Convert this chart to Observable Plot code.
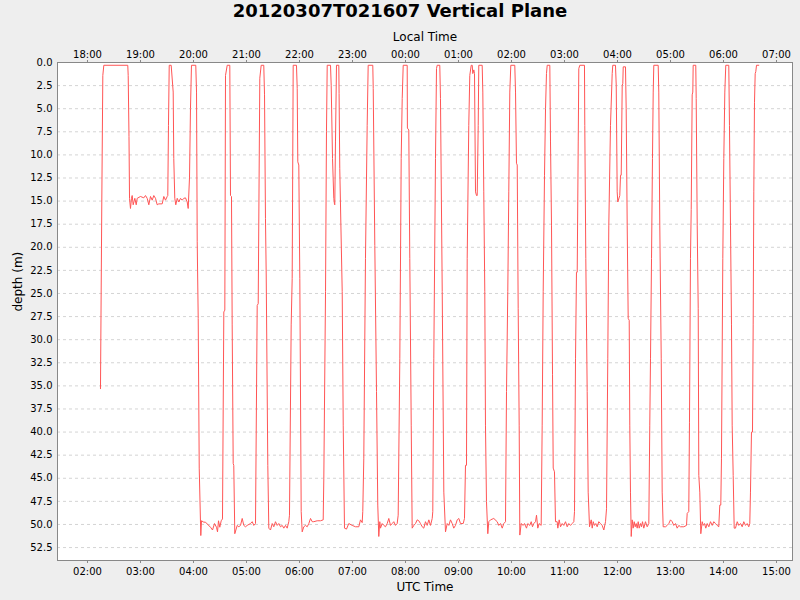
<!DOCTYPE html>
<html><head><meta charset="utf-8">
<script src="https://cdn.jsdelivr.net/npm/d3@7"></script>
<script src="https://cdn.jsdelivr.net/npm/@observablehq/plot@0.6"></script>
<style>
html,body{margin:0;padding:0;background:#eeeeee;}
#title{height:24px;line-height:24px;text-align:center;font:bold 18px "DejaVu Sans",sans-serif;color:#000;}
#chart svg{display:block;}
</style></head><body>
<div id="title">20120307T021607 Vertical Plane</div>
<div id="chart"></div>
<script>
const utcHours = [
2.245,2.270,2.289,2.308,2.760,2.768,2.783,2.793,2.811,2.830,2.843,2.862,2.893,2.919,2.938,3.000,3.062,3.094,3.126,3.157,
3.189,3.221,3.251,3.283,3.315,3.345,3.409,3.440,3.472,3.504,3.515,3.528,3.542,3.579,3.617,3.628,3.647,3.666,3.693,3.723,
3.755,3.787,3.817,3.849,3.881,3.900,3.925,3.943,3.962,4.043,4.057,4.070,4.089,4.108,4.138,4.151,4.194,4.226,4.321,4.359,
4.396,4.434,4.453,4.472,4.496,4.523,4.547,4.572,4.591,4.604,4.636,4.685,4.698,4.717,4.730,4.749,4.760,4.779,4.825,4.855,
4.887,4.919,4.949,4.981,5.013,5.075,5.108,5.138,5.170,5.202,5.221,5.251,5.277,5.326,5.340,5.358,5.372,5.402,5.421,5.453,
5.485,5.515,5.547,5.579,5.609,5.642,5.674,5.704,5.736,5.768,5.798,5.811,5.843,5.862,5.881,5.943,5.957,5.968,5.987,6.006,
6.032,6.051,6.081,6.113,6.145,6.176,6.208,6.240,6.270,6.334,6.396,6.447,6.459,6.491,6.509,6.523,6.585,6.598,6.623,6.647,
6.660,6.666,6.679,6.698,6.742,6.747,6.760,6.806,6.825,6.849,6.887,6.930,6.994,7.057,7.119,7.151,7.183,7.194,7.213,7.245,
7.277,7.296,7.383,7.391,7.421,7.453,7.477,7.496,7.515,7.528,7.560,7.591,7.623,7.655,7.685,7.717,7.749,7.779,7.811,7.843,
7.862,7.893,7.919,7.938,7.957,8.032,8.036,8.062,8.081,8.108,8.126,8.157,8.189,8.221,8.251,8.283,8.315,8.345,8.377,8.409,
8.440,8.472,8.504,8.515,8.534,8.566,8.585,8.598,8.647,8.660,8.693,8.723,8.755,8.787,8.817,8.849,8.881,8.911,8.943,8.976,
9.006,9.038,9.089,9.113,9.132,9.151,9.164,9.194,9.213,9.240,9.259,9.270,9.289,9.302,9.321,9.340,9.353,9.372,9.383,9.447,
9.459,9.477,9.496,9.509,9.528,9.553,9.572,9.604,9.666,9.730,9.760,9.793,9.825,9.855,9.887,9.906,9.930,9.949,9.968,9.987,
10.062,10.076,10.094,10.108,10.126,10.145,10.157,10.183,10.221,10.245,10.283,10.308,10.345,10.372,10.396,10.421,10.453,10.472,10.496,10.523,
10.560,10.579,10.598,10.623,10.642,10.660,10.674,10.723,10.736,10.755,10.774,10.787,10.811,10.830,10.862,10.874,10.900,10.925,10.957,10.987,
11.019,11.051,11.081,11.113,11.145,11.176,11.189,11.208,11.226,11.240,11.259,11.270,11.289,11.377,11.383,11.402,11.428,11.447,11.472,11.504,
11.523,11.542,11.566,11.591,11.617,11.647,11.679,11.711,11.742,11.774,11.793,11.817,11.836,11.868,11.900,11.911,11.962,11.976,11.994,12.006,
12.043,12.057,12.070,12.089,12.100,12.108,12.151,12.164,12.183,12.202,12.221,12.232,12.245,12.259,12.277,12.296,12.315,12.334,12.353,12.372,
12.391,12.409,12.434,12.453,12.472,12.496,12.528,12.560,12.591,12.609,12.623,12.642,12.660,12.674,12.685,12.768,12.779,12.798,12.825,12.843,
12.862,12.906,12.938,12.968,13.000,13.032,13.062,13.094,13.126,13.157,13.189,13.251,13.302,13.315,13.345,13.358,13.377,13.391,13.409,13.421,
13.428,13.477,13.485,13.504,13.523,13.534,13.553,13.572,13.598,13.617,13.642,13.666,13.693,13.723,13.755,13.787,13.817,13.849,13.881,13.911,
13.930,13.949,13.962,13.987,14.006,14.025,14.043,14.100,14.113,14.132,14.151,14.164,14.183,14.202,14.226,14.259,14.289,14.321,14.353,14.383,
14.415,14.447,14.477,14.496,14.509,14.528,14.547,14.560,14.572,14.585,14.598,14.609,14.623,14.666
];
const depthM = [
35.3,15.0,1.4,0.3,0.3,1.4,8.0,14.7,15.8,14.7,14.4,15.4,14.7,15.4,14.7,14.5,14.65,14.4,14.7,15.4,
14.5,14.9,14.4,14.7,15.4,15.3,15.3,14.5,14.9,14.5,14.4,6.8,0.3,0.3,3.2,10.4,14.7,15.4,14.7,15.1,
14.7,14.9,14.7,14.65,15.1,15.8,12.4,5.0,0.3,0.3,3.2,19.4,27.7,43.9,51.2,49.6,49.75,49.75,50.3,50.6,
49.9,50.3,50.8,49.6,50.3,49.6,49.4,27.0,26.8,1.4,0.3,0.3,14.4,14.5,28.4,43.4,43.6,51.0,50.1,50.25,
50.1,49.35,50.1,50.25,50.1,49.9,49.7,50.1,49.9,26.3,26.1,1.7,0.3,0.3,3.5,16.9,23.0,43.6,50.4,50.6,
49.9,50.25,49.7,50.1,49.9,50.25,50.1,50.4,50.1,50.4,49.7,49.0,28.4,23.4,0.3,0.3,2.8,10.75,11.1,23.4,
48.6,50.8,50.25,50.1,50.25,49.9,49.35,49.7,49.7,49.6,49.6,49.5,45.0,24.8,7.5,0.3,0.3,2.45,10.4,14.7,
15.3,15.4,8.6,0.3,0.3,3.35,11.5,24.8,39.25,50.4,50.5,49.9,50.1,50.25,50.25,49.5,49.8,48.6,42.9,21.2,
6.8,0.3,0.3,2.8,19.8,35.6,47.9,51.3,49.7,50.4,49.9,50.1,50.25,49.9,49.35,50.1,49.9,49.7,50.1,49.9,
49.0,32.0,10.4,3.9,0.3,0.3,7.1,7.3,21.2,39.25,50.4,50.1,49.9,49.5,49.6,49.9,50.25,50.4,49.7,50.1,
49.5,50.1,49.35,48.6,32.0,10.4,0.65,0.3,0.3,3.9,24.8,46.5,50.8,49.9,50.1,49.5,49.9,50.4,50.1,49.5,
49.35,49.9,49.9,49.35,43.6,43.6,21.2,6.8,1.4,0.3,0.3,1.2,0.8,1.2,14.0,14.4,14.4,6.8,0.3,0.3,
3.2,14.0,24.8,39.25,47.5,51.0,49.7,49.5,49.35,49.7,50.1,49.9,50.4,49.9,49.7,35.6,24.8,14.0,3.2,0.3,
0.3,3.2,10.9,11.1,26.6,39.25,51.15,49.9,50.1,49.9,50.4,49.9,50.1,49.7,50.25,49.9,49.7,49.0,50.4,49.9,
50.1,39.25,24.8,12.2,5.0,1.2,0.3,0.3,8.6,17.6,33.8,43.9,44.3,49.7,49.7,50.4,49.5,50.25,49.9,50.1,
49.7,50.25,49.9,50.1,49.9,49.7,48.6,32.0,22.7,22.7,8.6,0.65,0.3,0.3,6.8,21.2,35.6,46.5,50.25,49.5,
50.4,49.7,50.1,49.9,50.25,49.7,49.9,50.1,50.6,49.7,48.3,32.0,17.6,6.8,1.2,0.3,0.3,2.45,14.0,15.1,
14.4,12.2,12.2,2.45,2.3,0.47,0.47,5.0,17.6,27.7,27.9,39.25,46.5,51.3,49.5,50.4,49.7,50.25,49.9,50.4,
49.7,50.4,49.9,50.25,49.7,50.4,49.7,50.25,49.9,39.25,32.0,21.2,10.4,3.2,0.3,0.3,3.2,17.6,32.0,46.5,
50.25,50.25,50.1,49.9,49.5,49.7,50.1,49.9,50.4,50.1,50.25,50.25,50.1,48.8,48.6,39.0,21.2,15.9,3.5,3.2,
0.3,0.3,3.9,17.6,26.6,44.7,46.5,51.0,49.7,50.1,49.9,50.4,49.9,50.25,49.7,50.1,49.7,49.9,50.1,50.25,
47.9,47.9,42.9,21.2,10.4,3.2,0.3,0.3,6.8,17.6,28.4,39.25,44.7,50.4,50.4,49.7,50.1,49.9,50.25,49.7,
50.1,49.9,50.25,49.9,46.5,40.0,40.0,28.4,14.0,4.3,1.2,1.0,0.3,0.3
];
const xTicks = [2,3,4,5,6,7,8,9,10,11,12,13,14,15];
const yTicks = [0,2.5,5,7.5,10,12.5,15,17.5,20,22.5,25,27.5,30,32.5,35,37.5,40,42.5,45,47.5,50,52.5];
const utcOffset = -8;

const rows = utcHours.map((h, i) => ({h, d: depthM[i]}));
const fmtUTC = h => String(h).padStart(2, "0") + ":00";
const fmtLocal = h => String((h + utcOffset + 24) % 24).padStart(2, "0") + ":00";

const chart = Plot.plot({
  width: 800, height: 576,
  marginTop: 38, marginBottom: 40, marginLeft: 57, marginRight: 8,
  style: {background: "#eeeeee", fontFamily: "DejaVu Sans, sans-serif", fontSize: "10px", color: "#000"},
  x: {domain: [1.434, 15.302]},
  y: {domain: [0, 53.9], reverse: true},
  marks: [
    Plot.frame({fill: "white", stroke: "none"}),
    Plot.gridY(yTicks, {stroke: "#d4d4d4", strokeOpacity: 1, strokeDasharray: "3,3"}),
    Plot.line(rows, {x: "h", y: "d", stroke: "#ff5555", strokeWidth: 1}),
    Plot.frame({stroke: "#888888"}),
    Plot.axisX(xTicks, {anchor: "bottom", tickFormat: fmtUTC, tickSize: 3, tickPadding: 4, stroke: "#888888", label: null}),
    Plot.axisX(xTicks, {anchor: "top", tickFormat: fmtLocal, tickSize: 3, tickPadding: 2, stroke: "#888888", label: null}),
    Plot.axisY(yTicks, {anchor: "left", tickFormat: d => d.toFixed(1), tickSize: 0, tickPadding: 5, label: null}),
    Plot.text(["Local Time"], {text: d => d, frameAnchor: "top", dy: -30, fontSize: 12}),
    Plot.text(["UTC Time"], {text: d => d, frameAnchor: "bottom", dy: 30, fontSize: 12}),
    Plot.text(["depth (m)"], {text: d => d, frameAnchor: "left", dx: -39, rotate: -90, fontSize: 12})
  ]
});
document.getElementById("chart").appendChild(chart);
</script>
</body></html>
